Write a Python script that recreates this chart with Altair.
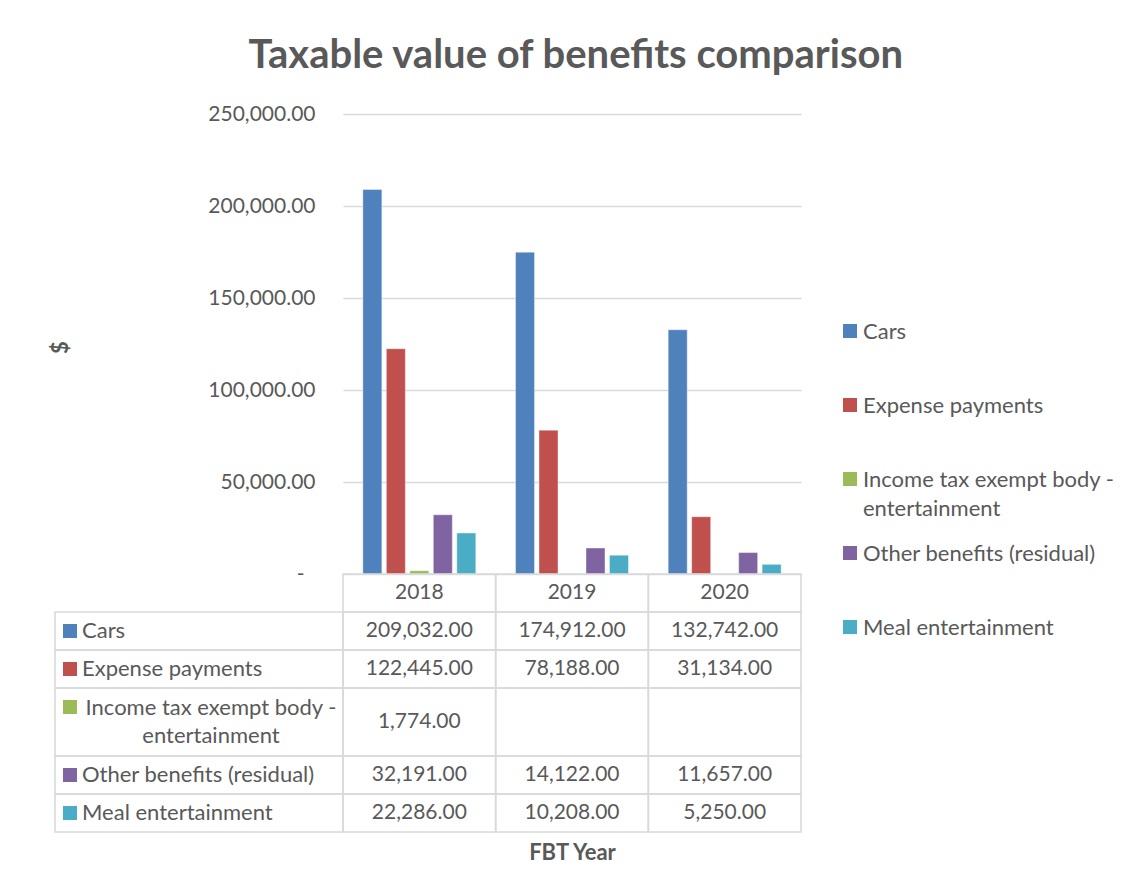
import altair as alt
import pandas as pd

# ---------------- data ----------------
years = ["2018", "2019", "2020"]
series = ["Cars", "Expense payments", "Income tax exempt body - entertainment",
          "Other benefits (residual)", "Meal entertainment"]
label_lines = [["Cars"], ["Expense payments"], ["Income tax exempt body -", "entertainment"],
               ["Other benefits (residual)"], ["Meal entertainment"]]
colors = ["#4F81BD", "#C0504D", "#9BBB59", "#8064A2", "#4BACC6"]
cars = [209032, 174912, 132742]
expense = [122445, 78188, 31134]
income_exempt = [1774, None, None]
other = [32191, 14122, 11657]
meal = [22286, 10208, 5250]
all_vals = [cars, expense, income_exempt, other, meal]
y_ticks = [0, 50000, 100000, 150000, 200000, 250000]

# ---------------- layout / style ----------------
FONT = "Lato"
TXT = "#595959"
GRID = "#D9D9D9"
NUM_FS = 21
LBL_FS = 22
PLOT_W = 458
PLOT_H = 460
COL_PX = PLOT_W / 3
ROW_PX = 38
LABEL_COL_PX = 288
LABEL_W = LABEL_COL_PX / COL_PX
TWO_LINE_EXTRA = 30 / 38

color_scale = alt.Scale(domain=series, range=colors)

# ---------------- bar chart ----------------
bar_rows = []
for s, vals in zip(series, all_vals):
    for yr, v in zip(years, vals):
        if v is not None:
            bar_rows.append({"series": s, "year": yr, "value": v})
bar_df = pd.DataFrame(bar_rows)

bars = alt.Chart(bar_df).mark_bar(stroke="white", strokeWidth=0.6, strokeOpacity=0.7).encode(
    x=alt.X("year:N", scale=alt.Scale(domain=years, paddingInner=0, paddingOuter=0), axis=None),
    xOffset=alt.XOffset("series:N", scale=alt.Scale(domain=series, paddingInner=0.19, paddingOuter=0.845)),
    y=alt.Y("value:Q", scale=alt.Scale(domain=[0, 250000], nice=False),
            axis=alt.Axis(values=y_ticks,
                          labelExpr="datum.value == 0 ? '-' : format(datum.value, ',.2f')",
                          labelFontSize=NUM_FS, labelColor=TXT,
                          labelPadding={"condition": {"test": "datum.value === 0", "value": 39}, "value": 28},
                          ticks=False, domain=False,
                          gridColor=GRID, gridWidth=1.3,
                          title="$", titleFontSize=22, titleFontWeight="bold", titleColor=TXT,
                          titleAngle=270, titleX=-283, titleY=233, titleAlign="center",
                          titleBaseline="middle")),
    color=alt.Color("series:N", scale=color_scale, legend=None),
).properties(width=PLOT_W, height=PLOT_H)

# ---------------- data table ----------------
rects, head_txt, val_txt, lab_left, lab_center, squares = [], [], [], [], [], []
for j, yr in enumerate(years):
    rects.append(dict(x0=j, x1=j + 1, y0=0, y1=1))
    head_txt.append(dict(x=j + 0.5, y=0.5, text=yr))
top = 1.0
for i, s in enumerate(series):
    n = len(label_lines[i])
    h = 1 + TWO_LINE_EXTRA * (n - 1)
    rects.append(dict(x0=-LABEL_W, x1=0, y0=top, y1=top + h))
    for j in range(3):
        rects.append(dict(x0=j, x1=j + 1, y0=top, y1=top + h))
        v = all_vals[i][j]
        if v is not None:
            val_txt.append(dict(x=j + 0.5, y=top + h / 2, text=f"{v:,.2f}"))
    squares.append(dict(x=-LABEL_W, y=top + 0.5, series=s))
    if n == 1:
        lab_left.append(dict(x=-LABEL_W, y=top + h / 2, text=label_lines[i][0]))
    else:
        lab_center.append(dict(x=-LABEL_W / 2, y=top + h / 2, text="\n".join(label_lines[i])))
    top += h
TOTAL = top

xs = alt.Scale(domain=[0, 3], nice=False, zero=False)
ys = alt.Scale(domain=[0, TOTAL], nice=False, zero=False, reverse=True)
tax = alt.Axis(title="FBT Year", labels=False, ticks=False, domain=False, grid=False,
               titleFontSize=22, titleFontWeight="bold", titleColor=TXT, titlePadding=10,
               minExtent=0)

cells = alt.Chart(pd.DataFrame(rects)).mark_rect(fillOpacity=0, stroke=GRID, strokeWidth=1.6).encode(
    x=alt.X("x0:Q", scale=xs, axis=tax), x2="x1:Q",
    y=alt.Y("y0:Q", scale=ys, axis=None), y2="y1:Q")

def text_layer(rows, align, fs, dx=0, dy=0):
    return alt.Chart(pd.DataFrame(rows)).mark_text(
        fontSize=fs, color=TXT, align=align, baseline="middle", dx=dx, dy=dy,
        lineBreak="\n", lineHeight=28).encode(
        x=alt.X("x:Q", scale=xs, axis=tax),
        y=alt.Y("y:Q", scale=ys, axis=None),
        text="text:N")

sq = alt.Chart(pd.DataFrame(squares)).mark_square(size=196, opacity=1, xOffset=15).encode(
    x=alt.X("x:Q", scale=xs, axis=tax),
    y=alt.Y("y:Q", scale=ys, axis=None),
    color=alt.Color("series:N", scale=color_scale, legend=None))

table = alt.layer(
    cells,
    text_layer(head_txt, "center", NUM_FS),
    text_layer(val_txt, "center", NUM_FS),
    text_layer(lab_left, "left", LBL_FS, dx=27),
    text_layer(lab_center, "center", LBL_FS, dx=12, dy=-14),
    sq,
).properties(width=PLOT_W, height=TOTAL * ROW_PX)

# ---------------- legend ----------------
leg_df = pd.DataFrame({"series": series, "label": ["\n".join(l) for l in label_lines]})
ly = alt.Scale(type="point", domain=series, range=[217, 513], padding=0)
leg_sq = alt.Chart(leg_df).mark_square(size=196, opacity=1).encode(
    x=alt.value(8),
    y=alt.Y("series:N", scale=ly, axis=None),
    color=alt.Color("series:N", scale=color_scale, legend=None))
leg_txt = alt.Chart(leg_df).mark_text(
    fontSize=LBL_FS, color=TXT, align="left", baseline="alphabetic", dy=8,
    lineBreak="\n", lineHeight=29).encode(
    x=alt.value(21),
    y=alt.Y("series:N", scale=ly, axis=None),
    text="label:N")
legend = alt.layer(leg_sq, leg_txt).properties(width=270, height=560)

# ---------------- assemble ----------------
left = alt.vconcat(bars, table, spacing=0, bounds="flush").resolve_scale(x="independent", y="independent")
chart = alt.hconcat(left, legend, spacing=40).resolve_scale(x="independent", y="independent").properties(
    title=alt.TitleParams("Taxable value of benefits comparison", fontSize=40, fontWeight="bold",
                          color=TXT, font=FONT, anchor="middle", offset=27, dx=-6),
    padding={"left": 41, "top": 28, "right": 5, "bottom": 5},
).configure(font=FONT).configure_view(strokeWidth=0)

chart.save("out.html", embed_options={"renderer": "svg", "actions": False})
